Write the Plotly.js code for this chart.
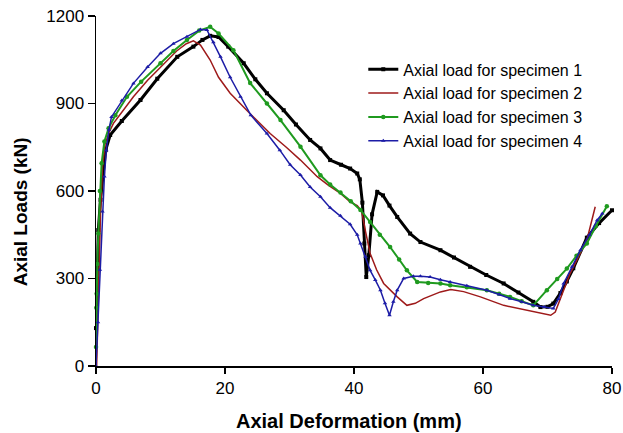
<!DOCTYPE html>
<html>
<head>
<meta charset="utf-8">
<script src="https://cdn.plot.ly/plotly-3.0.1.min.js"></script>
<style>html,body{margin:0;padding:0;background:#fff;}#chart{width:623px;height:433px;}</style>
</head>
<body>
<div id="chart"></div>
<script>
// Specimen 1 (black)
var s1x = [0, 0.15, 0.36, 0.7, 1.1, 1.5, 2.2, 4.0, 6.9, 9.5, 12.6, 15.1, 16.5, 17.7, 19.0, 20.5, 22.9, 24.7, 26.5, 29.1, 31.0, 33.2, 34.8, 36.3, 38.0, 39.4, 40.5, 40.9, 41.3, 41.6, 41.9, 42.3, 42.8, 43.6, 44.5, 45.5, 46.7, 48.7, 50.3, 53.4, 55.5, 58.0, 60.5, 63.2, 65.5, 67.8, 68.9, 70.0, 70.9, 72.0, 73.0, 74.0, 76.1, 78.0, 80.0];
var s1y = [130, 300, 466, 570, 660, 740, 792, 840, 912, 985, 1060, 1095, 1118, 1132, 1128, 1095, 1038, 983, 935, 877, 828, 775, 746, 706, 690, 677, 660, 640, 560, 420, 305, 380, 520, 597, 585, 550, 511, 454, 425, 397, 372, 340, 312, 283, 252, 220, 202, 203, 214, 250, 290, 335, 440, 490, 534];
// Specimen 2 (red)
var s2x = [0.1, 0.4, 0.7, 1.0, 1.4, 2.0, 2.7, 4.0, 5.8, 8.0, 10.0, 12.5, 14.0, 15.1, 16.2, 17.7, 19.0, 20.8, 23.9, 27.0, 29.5, 31.7, 34.3, 36.0, 37.9, 39.4, 40.5, 41.2, 41.8, 42.5, 43.5, 44.6, 46.7, 48.2, 49.5, 50.8, 53.4, 55.0, 57.0, 59.6, 63.2, 66.8, 70.5, 71.2, 72.2, 73.5, 76.1, 77.4];
var s2y = [0, 280, 520, 680, 760, 800, 832, 870, 923, 980, 1026, 1080, 1105, 1115, 1100, 1049, 990, 935, 865, 797, 750, 706, 649, 620, 592, 563, 550, 530, 460, 386, 330, 283, 237, 208, 215, 231, 254, 262, 255, 237, 208, 191, 174, 185, 240, 317, 431, 546];
// Specimen 3 (green)
var s3x = [0, 0.05, 0.1, 0.2, 0.36, 0.6, 0.87, 1.3, 1.95, 3.0, 4.8, 7.0, 10.0, 12.0, 14.1, 16.0, 17.7, 19.0, 21.3, 23.9, 26.5, 28.6, 31.7, 34.8, 36.3, 37.9, 39.5, 41.0, 42.5, 44.0, 45.6, 47.0, 48.2, 49.8, 51.5, 53.4, 54.9, 57.5, 60.6, 62.5, 64.2, 66.0, 67.8, 69.9, 71.5, 73.0, 74.5, 76.1, 77.5, 79.2];
var s3y = [65, 200, 248, 350, 454, 600, 695, 770, 815, 860, 923, 975, 1038, 1080, 1118, 1150, 1163, 1140, 1083, 970, 900, 843, 752, 654, 622, 595, 565, 535, 494, 450, 408, 365, 328, 288, 285, 283, 277, 270, 260, 248, 237, 222, 208, 260, 298, 334, 378, 420, 480, 548];
// Specimen 4 (blue)
var s4x = [0, 0.3, 0.6, 1.0, 1.3, 1.6, 2.0, 2.4, 4.0, 5.8, 8.0, 10.0, 12.0, 14.1, 16.2, 17.2, 18.2, 19.3, 20.8, 22.4, 24.0, 26.5, 28.5, 30.1, 31.7, 33.2, 34.8, 36.3, 37.9, 39.4, 40.5, 41.0, 41.8, 42.5, 43.3, 44.1, 44.8, 45.5, 46.1, 46.7, 47.7, 49.2, 50.3, 51.8, 53.4, 54.9, 57.5, 60.6, 62.5, 64.2, 66.0, 67.8, 69.5, 70.9, 71.7, 72.5, 73.8, 75.1, 76.5, 77.7, 78.5];
var s4y = [0, 150, 330, 530, 650, 740, 810, 854, 910, 969, 1025, 1072, 1105, 1129, 1154, 1152, 1110, 1060, 990, 923, 860, 797, 740, 690, 655, 614, 580, 543, 515, 486, 450, 420, 375, 328, 295, 260, 215, 174, 220, 260, 300, 308, 308, 305, 296, 288, 275, 260, 245, 231, 220, 208, 202, 197, 230, 283, 340, 397, 450, 500, 523];

var names = ['Axial load for specimen 1', 'Axial load for specimen 2', 'Axial load for specimen 3', 'Axial load for specimen 4'];
var xTitle = 'Axial Deformation (mm)';
var yTitle = 'Axial Loads (kN)';
var xTicks = [0, 20, 40, 60, 80];
var yTicks = [0, 300, 600, 900, 1200];

var traces = [
  {x: s1x, y: s1y, name: names[0], mode: 'lines+markers', cliponaxis: false,
   line: {color: '#000000', width: 3}, marker: {symbol: 'square', size: 4, color: '#000000'}},
  {x: s2x, y: s2y, name: names[1], mode: 'lines', cliponaxis: false,
   line: {color: '#9e1a1a', width: 1.5}},
  {x: s3x, y: s3y, name: names[2], mode: 'lines+markers', cliponaxis: false,
   line: {color: '#1f9a1f', width: 2}, marker: {symbol: 'circle', size: 4.5, color: '#1f9a1f'}},
  {x: s4x, y: s4y, name: names[3], mode: 'lines+markers', cliponaxis: false,
   line: {color: '#1c1ca6', width: 1.5}, marker: {symbol: 'triangle-up', size: 4, color: '#1c1ca6'}}
];

var layout = {
  width: 623, height: 433,
  margin: {l: 96, r: 11, t: 16, b: 67},
  paper_bgcolor: '#ffffff', plot_bgcolor: '#ffffff',
  font: {family: 'Liberation Sans, Arial, sans-serif', color: '#000000'},
  showlegend: true,
  legend: {x: 0.518, y: 0.896, xanchor: 'left', yanchor: 'top', bgcolor: 'rgba(0,0,0,0)',
    font: {size: 16, color: '#000000'}},
  xaxis: {range: [0, 80], tickvals: xTicks, ticktext: xTicks.map(String),
    showgrid: false, zeroline: false, showline: true, linecolor: '#000', linewidth: 1.5,
    ticks: 'outside', ticklen: 6, tickwidth: 1.5, tickcolor: '#000',
    tickfont: {size: 17}},
  yaxis: {range: [0, 1200], tickvals: yTicks, ticktext: yTicks.map(String),
    showgrid: false, zeroline: false, showline: true, linecolor: '#000', linewidth: 1.5,
    ticks: 'outside', ticklen: 7, tickwidth: 1.5, tickcolor: '#000',
    tickfont: {size: 17}},
  annotations: [
    {text: xTitle, xref: 'paper', yref: 'paper', x: 0.491, y: -0.158,
     xanchor: 'center', yanchor: 'middle', showarrow: false,
     font: {size: 20, weight: 'bold', color: '#000'}},
    {text: yTitle, xref: 'paper', yref: 'paper', x: -0.147, y: 0.4395, textangle: -90,
     xanchor: 'center', yanchor: 'middle', showarrow: false,
     font: {size: 19, weight: 'bold', color: '#000'}}
  ]
};

Plotly.newPlot('chart', traces, layout, {displayModeBar: false, staticPlot: true});
</script>
</body>
</html>
